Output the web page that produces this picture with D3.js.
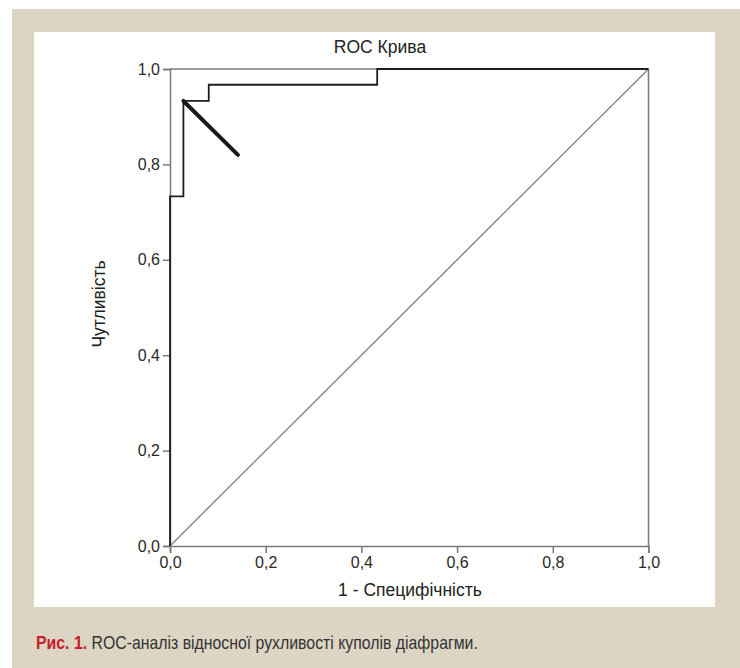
<!DOCTYPE html>
<html>
<head>
<meta charset="utf-8">
<script src="https://cdn.jsdelivr.net/npm/d3@7"></script>
<style>
  body { margin: 0; background: #fff; }
  svg text { font-family: "Liberation Sans", Arial, sans-serif; }
</style>
</head>
<body>
<svg id="chart" width="740" height="668"></svg>
<script>
// ROC curve points (1 - specificity, sensitivity)
var rocFpr  = [0, 0,     0.028, 0.028, 0.081, 0.081, 0.433, 0.433, 1];
var rocTpr  = [0, 0.733, 0.733, 0.933, 0.933, 0.967, 0.967, 1,     1];
// thick cutoff segment
var cutFpr = [0.028, 0.142];
var cutTpr = [0.933, 0.82];
var tickVals = [0, 0.2, 0.4, 0.6, 0.8, 1.0];

var svg = d3.select("#chart");

// background frame
svg.append("rect").attr("x", 12).attr("y", 9).attr("width", 728).attr("height", 659).attr("fill", "#ddd5c3");
svg.append("rect").attr("x", 34).attr("y", 32).attr("width", 681).attr("height", 575).attr("fill", "#fff");

var x = d3.scaleLinear().domain([0, 1]).range([170, 648.5]);
var y = d3.scaleLinear().domain([0, 1]).range([546, 69]);
var fmt = function(d) { return d3.format(".1f")(d).replace(".", ","); };

var gray = "#7a7a7a";

// frame (top and right)
svg.append("line").attr("x1", x(0)).attr("x2", x(1)).attr("y1", y(1)).attr("y2", y(1))
  .attr("stroke", gray).attr("stroke-width", 1.5);
svg.append("line").attr("x1", x(1)).attr("x2", x(1)).attr("y1", y(0)).attr("y2", y(1))
  .attr("stroke", gray).attr("stroke-width", 1.5);

// axes
var xAxis = svg.append("g").attr("transform", "translate(0," + y(0) + ")")
  .call(d3.axisBottom(x).tickValues(tickVals).tickFormat(fmt).tickSize(7).tickPadding(4));
var yAxis = svg.append("g").attr("transform", "translate(" + x(0) + ",0)")
  .call(d3.axisLeft(y).tickValues(tickVals).tickFormat(fmt).tickSize(7).tickPadding(3));
[xAxis, yAxis].forEach(function(g) {
  g.select(".domain").attr("stroke", gray).attr("stroke-width", 1.5);
  g.selectAll(".tick line").attr("stroke", gray).attr("stroke-width", 1.5);
  g.selectAll(".tick text").attr("fill", "#2a2a2a").style("font-size", "16px")
    .style("font-family", "'Liberation Sans', Arial, sans-serif");
});

// reference diagonal
svg.append("line").attr("x1", x(0)).attr("y1", y(0)).attr("x2", x(1)).attr("y2", y(1))
  .attr("stroke", "#8a8a8a").attr("stroke-width", 1.5);

// ROC step curve
var line = d3.line()
  .x(function(d) { return x(d[0]); })
  .y(function(d) { return y(d[1]); });
svg.append("path").datum(d3.zip(rocFpr, rocTpr))
  .attr("d", line).attr("fill", "none")
  .attr("stroke", "#1e1e1e").attr("stroke-width", 1.8);

svg.append("path").datum(d3.zip(cutFpr, cutTpr))
  .attr("d", line).attr("fill", "none")
  .attr("stroke", "#1a1a1a").attr("stroke-width", 4).attr("stroke-linecap", "round");

// titles
svg.append("text").attr("x", 380).attr("y", 53).attr("text-anchor", "middle")
  .attr("fill", "#222").style("font-size", "17.5px").text("ROC Крива");
svg.append("text").attr("x", 410).attr("y", 596).attr("text-anchor", "middle")
  .attr("fill", "#222").style("font-size", "17.5px").text("1 - Специфічність");
svg.append("text").attr("transform", "translate(105,304) rotate(-90)").attr("text-anchor", "middle")
  .attr("fill", "#222").style("font-size", "17.5px").text("Чутливість");

// caption (condensed look via horizontal scale)
var cap = svg.append("text").attr("transform", "translate(36,649) scale(0.88,1)")
  .style("font-size", "18px");
cap.append("tspan").attr("fill", "#c4202b").style("font-weight", "bold").text("Рис. 1. ");
cap.append("tspan").attr("fill", "#333").text("ROC-аналіз відносної рухливості куполів діафрагми.");
</script>
</body>
</html>
